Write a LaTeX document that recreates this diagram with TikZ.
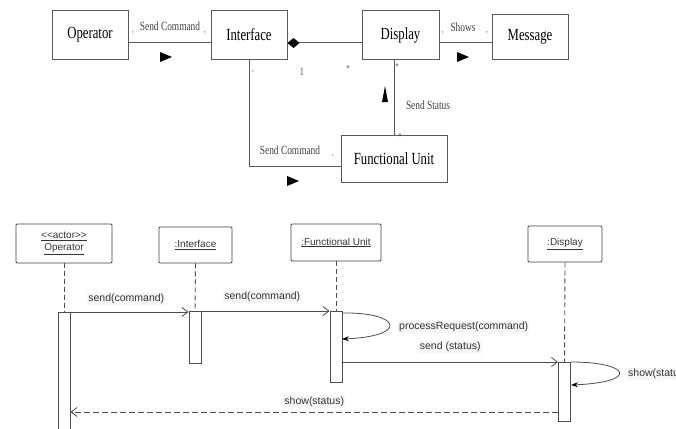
\documentclass[tikz,border=0pt]{standalone}
\usepackage{fontspec}
\usepackage{tikz}
\usetikzlibrary{arrows.meta}
\newfontfamily\umlserif[FakeStretch=0.75]{Liberation Serif}
\newfontfamily\seqsans{Liberation Sans}

\begin{document}
\begin{tikzpicture}[x=1pt,y=-1pt,
  classbox/.style={draw=black!65, line width=1pt, minimum height=48pt,
    font=\umlserif\fontsize{17}{17}\selectfont},
  assoc/.style={draw=black!65, line width=1pt},
  role/.style={font=\umlserif\fontsize{12.5}{12.5}\selectfont, text=black!75, inner sep=1pt},
  mult/.style={font=\umlserif\fontsize{9}{9}\selectfont, text=black!70, inner sep=0pt},
  lifebox/.style={draw=black!75, line width=0.9pt, rounded corners=1pt, minimum height=36pt,
    align=center, font=\seqsans\fontsize{10}{12}\selectfont, text=black!80},
  actbar/.style={draw=black!70, line width=0.9pt, fill=white, minimum width=12pt, inner sep=0pt, anchor=north},
  lifeline/.style={draw=black!70, line width=0.9pt, dash pattern=on 5pt off 3pt},
  msg/.style={draw=black!70, line width=0.8pt, -{Straight Barb[length=6pt,width=9pt]}},
  selfmsg/.style={draw=black!70, line width=0.8pt, -{Stealth[length=7pt,width=5pt,black]}},
  msglabel/.style={font=\seqsans\fontsize{10.5}{10.5}\selectfont, text=black!80, fill=black!4, inner sep=1pt}]
  \useasboundingbox (0,0) rectangle (676,428);

  % class diagram
  \node[classbox, minimum width=76pt] (op) at (90,35) {Operator};
  \node[classbox, minimum width=76pt] (intf) at (249,35) {Interface};
  \node[classbox, minimum width=77pt] (disp) at (400.5,35) {Display};
  \node[classbox, minimum width=76pt, minimum height=44pt] (msgbox) at (530,37) {Message};
  \node[classbox, minimum width=106pt, minimum height=47pt] (fu) at (394,158.5) {Functional Unit};

  \draw[assoc] ([yshift=-8pt]op.east) -- ([yshift=-8pt]op.east -| intf.west);
  \draw[assoc, {Diamond[length=12pt,width=10pt,black]}-] ([yshift=-8pt]intf.east) -- ([yshift=-8pt]intf.east -| disp.west);
  \draw[assoc] ([yshift=-8pt]disp.east) -- ([yshift=-8pt]disp.east -| msgbox.west);
  \draw[assoc] (fu.north) -- (fu.north |- disp.south);
  \draw[assoc] (intf.south) |- ([yshift=-7.5pt]fu.west);

  \node[role] (sc1) at (170,26) {Send Command};
  \node[role] (shows) at (463,27) {Shows};
  \node[role] (ss) at (428,105) {Send Status};
  \node[role] (sc2) at (290,150) {Send Command};
  \node[mult] at (133,33) {,};
  \node[mult] at (205,33) {,};
  \node[mult] at (443,33) {,};
  \node[mult] at (487,33) {,};
  \node[mult] at (253,72) {,};
  \node[mult] at (333,156) {,};
  \node[mult, font=\umlserif\fontsize{11}{11}\selectfont] at (302,72) {1};
  \node[mult] at (348,69) {*};
  \node[mult] at (397,67) {*};
  \node[mult] at (400,137) {*};
  \fill[black] (160,52) -- (172,57) -- (160,62) -- cycle;
  \fill[black] (457,52) -- (469,57) -- (457,62) -- cycle;
  \fill[black] (287,176) -- (299,181) -- (287,186) -- cycle;
  \fill[black] (385,86) -- (388,102) -- (382,102) -- cycle;

  % sequence diagram
  \node[lifebox, minimum width=96pt, minimum height=39pt] (sqop) at (64,243.5)
    {\underline{<\kern0pt<actor>\kern0pt>}\\\underline{Operator}};
  \node[lifebox, minimum width=73pt] (sqif) at (195.5,245) {\underline{:Interface}};
  \node[lifebox, minimum width=90pt, minimum height=37pt] (sqfu) at (336,242.5) {\underline{:Functional Unit}};
  \node[lifebox, minimum width=74pt] (sqdisp) at (565,244) {\underline{:Display}};

  \node[actbar, minimum height=125pt] (opbar) at (64,312) {};
  \node[actbar, minimum height=52pt] (ifbar) at (195,311) {};
  \node[actbar, minimum height=71pt] (fubar) at (336,311) {};
  \node[actbar, minimum height=59pt] (dispbar) at (564.5,362) {};

  \draw[lifeline] (sqop.south) -- (opbar.north);
  \draw[lifeline] (sqif.south) -- (ifbar.north);
  \draw[lifeline] (sqfu.south) -- (fubar.north);
  \draw[lifeline] (sqdisp.south) -- (dispbar.north);

  \draw[msg] (opbar.north) -- (opbar.north -| ifbar.west)
    node[msglabel, midway, above=7pt] {send(command)};
  \draw[msg] (ifbar.north) -- (fubar.north west)
    node[msglabel, midway, above=8pt] {send(command)};
  \coordinate (furet) at (342,339);
  \draw[selfmsg] ([yshift=-2pt]fubar.north east) .. controls (400,312) and (410,336) .. (furet);
  \node[msglabel, anchor=west] (preq) at (398,327) {processRequest(command)};
  \draw[msg] (fubar.east |- dispbar.north) -- (dispbar.north west)
    node[msglabel, midway, above=9pt] {send (status)};
  \coordinate (dispret) at (571,385);
  \draw[selfmsg] (dispbar.north east) .. controls (630,362) and (640,382) .. (dispret);
  \node[msglabel, anchor=west] (showself) at (627,374) {show(status)};
  \draw[msg, dash pattern=on 6pt off 3pt] ([yshift=-50pt]dispbar.north west) -- ([yshift=-50pt]dispbar.north west -| opbar.east)
    node[msglabel, midway, above=4pt] {show(status)};
\end{tikzpicture}
\end{document}
